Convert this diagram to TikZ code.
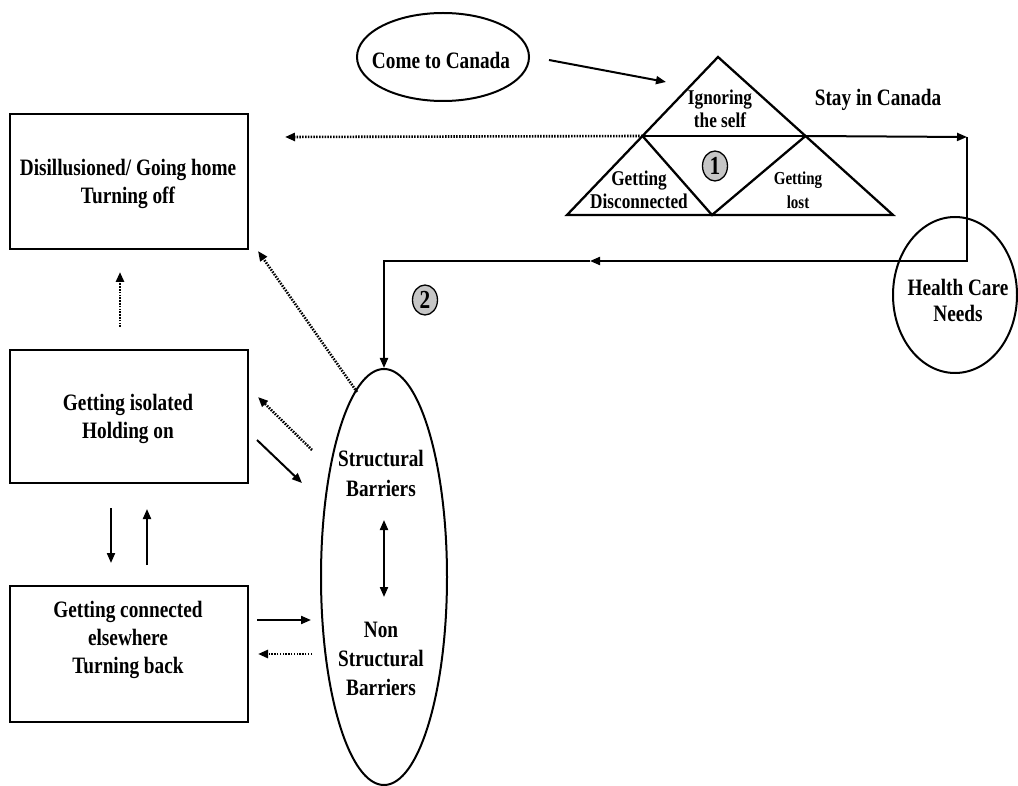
\documentclass[tikz,border=0pt]{standalone}
\usepackage{fontspec}
\setmainfont[FakeStretch=0.82]{Liberation Serif}
\usetikzlibrary{arrows.meta,shapes.geometric,calc}
\begin{document}
\begin{tikzpicture}[x=1pt,y=-1pt,
  box/.style={draw,line width=2.4pt,minimum width=238pt,inner sep=0},
  txt/.style={font=\fontsize{23.5}{28}\selectfont\bfseries,align=center,inner sep=0},
  ttxt/.style={font=\fontsize{21}{23}\selectfont\bfseries,align=center,inner sep=0},
  stxt/.style={font=\fontsize{18.3}{24}\selectfont\bfseries,align=center,inner sep=0},
  oval/.style={draw,ellipse,line width=2pt,inner sep=0},
  tri/.style={line width=2.3pt,line join=miter},
  arr/.style={line width=2pt,-{Triangle[length=10pt,width=8pt]}},
  darr/.style={line width=2.6pt,dash pattern=on 1.5pt off 1.3pt,-{Triangle[length=10pt,width=8pt]}},
  num/.style={draw,ellipse,fill=gray!45,line width=1.3pt,minimum width=25pt,minimum height=30pt,inner sep=0,font=\fontsize{26}{26}\selectfont\bfseries},
]
\useasboundingbox (0,0) rectangle (1018,786);

% Come to Canada
\node[oval,minimum width=172pt,minimum height=88pt] (come) at (443,57) {};
\node[txt] (comet) at (441,60) {Come to Canada};

% triangle
\coordinate (apex) at (718,57);
\coordinate (tL) at (567,215);
\coordinate (tR) at (893,215);
\coordinate (tB) at (712,215);
\coordinate (mL) at ($(apex)!0.5!(tL)$);
\coordinate (mR) at ($(apex)!0.5!(tR)$);
\draw[tri] (apex) -- (tL) -- (tR) -- cycle;
\draw[tri] (mL) -- (tB) -- (mR);
\draw[tri] (mL) -- (mR);
\node[ttxt] (ign) at (720,109) {Ignoring\\the self};
\node[ttxt] (gdis) at (639,190) {Getting\\Disconnected};
\node[stxt] (glost) at (798,190) {Getting\\lost};
\node[num] (n1) at (715,166) {1};

% come arrow
\coordinate (ca1) at (549,60);
\coordinate (ca2) at (666,82);
\draw[arr] (ca1) -- (ca2);

% stay in Canada path
\coordinate (c1) at (967,137);
\coordinate (c2) at (967,261);
\coordinate (cm) at (590,261);
\coordinate (c3) at (384,261);
\node[txt] (stay) at (878,100) {Stay in Canada};
\draw[arr] (mR) -- (c1);
\draw[arr] (c1) -- (c2) -- (cm);
\node[num] (n2) at (425,300) {2};

% Health care
\node[oval,minimum width=124pt,minimum height=156pt] (health) at (955,295) {};
\node[txt,font=\fontsize{23.5}{26}\selectfont\bfseries] (healtht) at (958,300) {Health Care\\Needs};

% barriers ellipse
\node[oval,minimum width=126pt,minimum height=416pt] (bar) at (384,577) {};
\node[txt,font=\fontsize{23.5}{30}\selectfont\bfseries] (sb) at (381,473) {Structural\\Barriers};
\node[txt,font=\fontsize{23.5}{29}\selectfont\bfseries] (nsb) at (381,659) {Non\\Structural\\Barriers};
\draw[arr] (cm) -- (c3) -- (bar.north);
\coordinate (d1) at (384,520);
\coordinate (d2) at (384,597);
\draw[arr,{Triangle[length=10pt,width=8pt]}-{Triangle[length=10pt,width=8pt]}] (d1) -- (d2);

% dotted from triangle to box 1
\coordinate (dl) at (285,137);
\draw[darr] (mL) -- (dl);

% boxes
\node[box,minimum height=135pt] (b1) at (129,181.5) {};
\node[txt] (t1) at (128,184) {Disillusioned/ Going home\\Turning off};
\node[box,minimum height=133pt] (b2) at (129,416.5) {};
\node[txt] (t2) at (128,419) {Getting isolated\\Holding on};
\node[box,minimum height=136pt] (b3) at (129,654) {};
\node[txt] (t3) at (128,640) {Getting connected\\elsewhere\\Turning back};

% arrows between boxes and barriers
\coordinate (u1) at (120,327); \coordinate (u2) at (120,272);
\draw[darr] (u1) -- (u2);
\coordinate (e1) at (357,392); \coordinate (e2) at (258,251);
\draw[darr] (e1) -- (e2);
\coordinate (f1) at (312,450); \coordinate (f2) at (258,397);
\draw[darr] (f1) -- (f2);
\coordinate (g1) at (257,440); \coordinate (g2) at (302,483);
\draw[arr] (g1) -- (g2);
\coordinate (h1) at (111,508); \coordinate (h2) at (111,563);
\draw[arr] (h1) -- (h2);
\coordinate (i1) at (147,565); \coordinate (i2) at (147,509);
\draw[arr] (i1) -- (i2);
\coordinate (j1) at (257,620); \coordinate (j2) at (311,620);
\draw[arr] (j1) -- (j2);
\coordinate (k1) at (312,654); \coordinate (k2) at (258,654);
\draw[darr] (k1) -- (k2);
\end{tikzpicture}
\end{document}
